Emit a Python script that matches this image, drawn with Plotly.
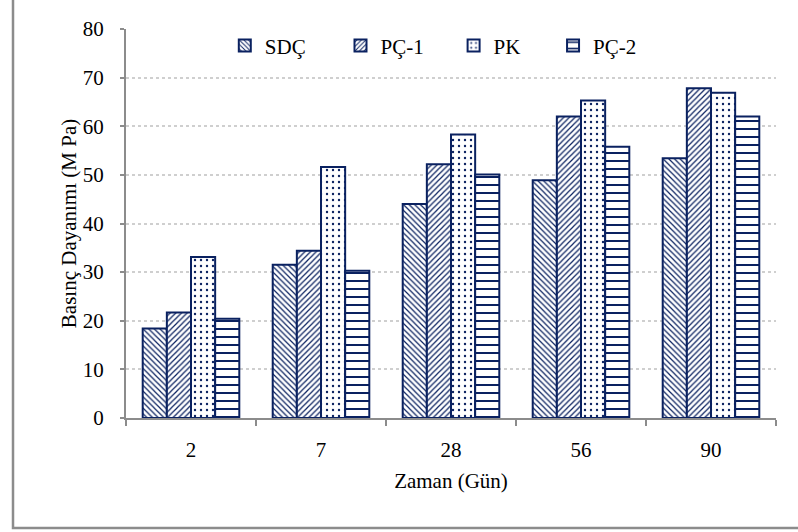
import plotly.graph_objects as go

# Compressive strength by curing age for four cement types
days = ["2", "7", "28", "56", "90"]
series_names = ["SDÇ", "PÇ-1", "PK", "PÇ-2"]
sdc = [18.4, 31.5, 44.0, 48.9, 53.4]
pc1 = [21.7, 34.4, 52.2, 62.0, 67.8]
pk = [33.1, 51.6, 58.3, 65.3, 66.9]
pc2 = [20.4, 30.3, 50.1, 55.8, 62.0]

y_ticks = [0, 10, 20, 30, 40, 50, 60, 70, 80]

NAVY = "#0a2160"
GREY = "#8c8c8c"
FONT = "Liberation Serif, Times New Roman, serif"

# pattern per series: shape, tile size, solidity
patterns = [("\\", 4, 0.3), ("/", 4, 0.3), (".", 6, 0.12), ("-", 8, 0.25)]
values = [sdc, pc1, pk, pc2]
legend_ids = ["legend", "legend2", "legend3", "legend4"]
legend_x = [0.152, 0.330, 0.504, 0.657]

fig = go.Figure()
for name, vals, (shape, size, sol), lg in zip(series_names, values, patterns, legend_ids):
    fig.add_trace(go.Bar(
        x=days, y=vals, name=name, legend=lg,
        marker=dict(
            color="white",
            line=dict(color=NAVY, width=2),
            pattern=dict(shape=shape, size=size, solidity=sol,
                         fgcolor=NAVY, bgcolor="white", fillmode="replace"),
        ),
    ))

legend_common = dict(
    orientation="h", yanchor="middle", y=0.957, xanchor="left",
    bgcolor="rgba(0,0,0,0)", font=dict(family=FONT, size=21, color="black"),
    itemwidth=30,
)
layout_legends = {lg: dict(legend_common, x=x) for lg, x in zip(legend_ids, legend_x)}

# outer frame of the chart area
L, R, T, B = 126, 22, 29, 114
pw, ph = 798 - L - R, 532 - T - B
def px_x(v):
    return (v - L) / pw
def px_y(v):
    return (532 - B - v) / ph

fig.update_layout(
    width=798, height=532,
    margin=dict(l=L, r=R, t=T, b=B),
    paper_bgcolor="white", plot_bgcolor="white",
    barmode="group", bargap=0.257, bargroupgap=0,
    font=dict(family=FONT, size=21, color="black"),
    showlegend=True,
    shapes=[dict(type="rect", xref="paper", yref="paper",
                 x0=px_x(13), x1=px_x(812), y0=px_y(528), y1=px_y(-10),
                 line=dict(color=GREY, width=2.5), fillcolor="rgba(0,0,0,0)",
                 layer="below")],
    **layout_legends,
)

fig.update_xaxes(
    type="category", showline=True, linecolor=GREY, linewidth=2,
    ticks="outside", tickson="boundaries", ticklen=6, tickwidth=2, tickcolor=GREY,
    ticklabelstandoff=12, showgrid=False,
    title=dict(text="Zaman (Gün)", font=dict(family=FONT, size=21), standoff=12),
    tickfont=dict(family=FONT, size=21),
)
fig.update_yaxes(
    range=[0, 80], tickvals=y_ticks, showline=True, linecolor=GREY, linewidth=2,
    ticks="outside", ticklen=4, tickwidth=2, tickcolor=GREY, ticklabelstandoff=12,
    showgrid=True, gridcolor="#cfcfcf", gridwidth=1.5, griddash="dot",
    zeroline=False,
    title=dict(text="Basınç Dayanımı (M Pa)", font=dict(family=FONT, size=21), standoff=0),
    tickfont=dict(family=FONT, size=21),
)

fig.write_html("out.html")
